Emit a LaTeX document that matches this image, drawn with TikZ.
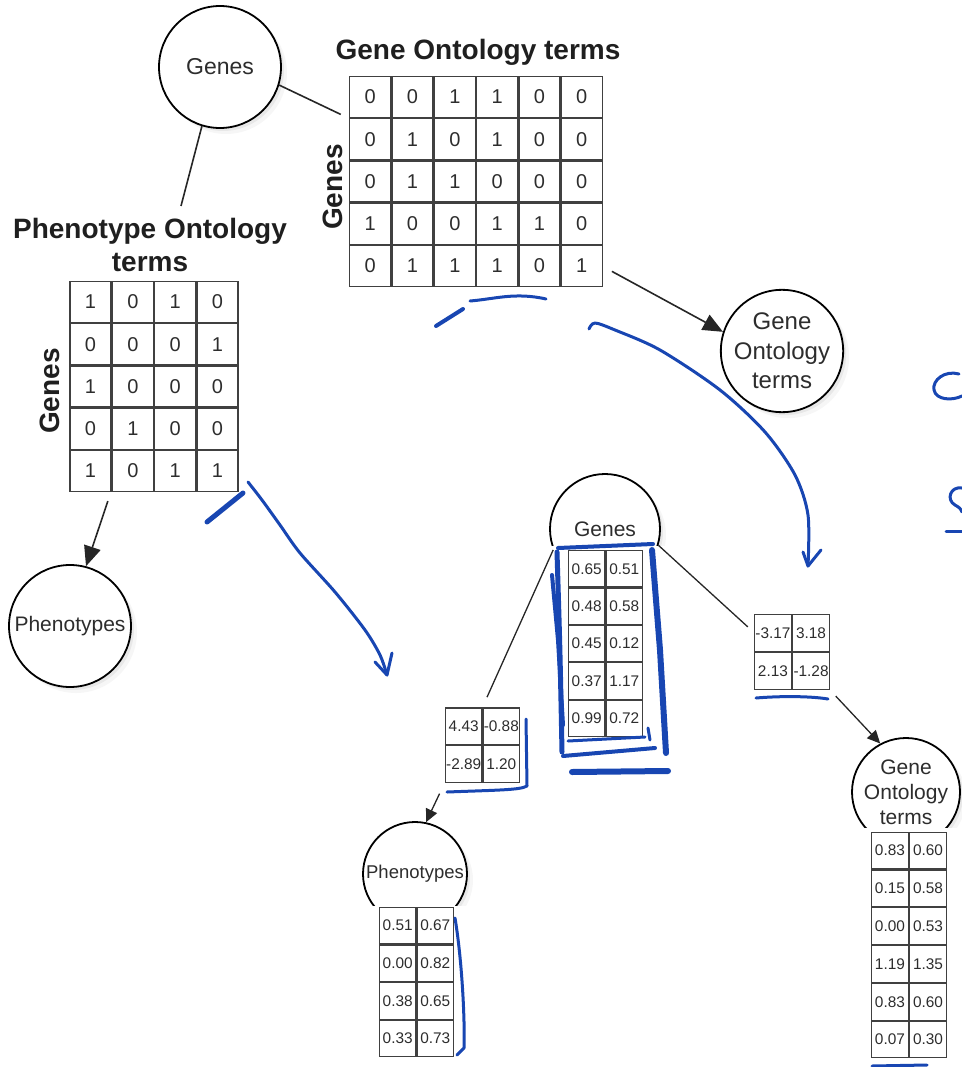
\documentclass[tikz,border=0pt]{standalone}
\usepackage{fontspec}
\setmainfont{Liberation Sans}
\usepackage{tikz}
\usetikzlibrary{matrix,shadows,arrows.meta,positioning}
\definecolor{inkblue}{RGB}{24,70,178}
\definecolor{txt}{RGB}{45,45,45}
\newcommand{\mFont}[2]{\fontsize{#1}{#2}\selectfont}
\newcommand{\mCover}[2]{\fill[white] #1 rectangle #2;}
\tikzset{
  entity/.style={circle, draw, line width=1.8pt, fill=white, text=txt, align=center, inner sep=0pt,
    drop shadow={shadow xshift=6pt, shadow yshift=-6pt, opacity=0.07},
    drop shadow={shadow xshift=3pt, shadow yshift=-3pt, opacity=0.12}},
  bincell/.style={draw=black!75, line width=1.3pt, minimum size=41pt, inner sep=0pt, outer sep=0pt,
    text=txt, font=\mFont{20}{24}},
  numcell/.style={draw=black!75, line width=1.1pt, minimum width=36.5pt, minimum height=36.5pt,
    inner sep=0pt, outer sep=0pt, text=txt, font=\mFont{15.4}{18}},
  grid/.style={matrix of nodes, column sep=0pt, row sep=0pt, inner sep=0pt},
  heading/.style={font=\bfseries\mFont{28}{33}, text=black!88, align=center, inner sep=0pt},
  link/.style={line width=1.6pt, black!85},
  arr/.style={link, -{Triangle[length=20pt,width=17pt]}},
  smallarr/.style={link, line width=1.3pt, -{Triangle[length=13pt,width=12pt]}},
  pen/.style={draw=inkblue, line width=3.5pt, line cap=round, line join=round},
}
\begin{document}
\begin{tikzpicture}[x=1pt,y=-1pt]
    \useasboundingbox (0,0) rectangle (961,1067);
    % input matrices
    \node[entity, minimum size=122pt, font=\mFont{23}{28}] (genesT) at (220,67) {Genes};
    \node[heading, anchor=base] (goTitle) at (478,60) {Gene Ontology terms};
    \node[heading, rotate=90] (goRowLbl) at (333,187) {Genes};
    \matrix (goM) [grid, nodes=bincell] at (476,181.5) {
      0 & 0 & 1 & 1 & 0 & 0 \\
      0 & 1 & 0 & 1 & 0 & 0 \\
      0 & 1 & 1 & 0 & 0 & 0 \\
      1 & 0 & 0 & 1 & 1 & 0 \\
      0 & 1 & 1 & 1 & 0 & 1 \\
    };
    \node[heading, anchor=north] (phTitle) at (150,218) {Phenotype Ontology\\terms};
    \node[heading, rotate=90] (phRowLbl) at (50,391) {Genes};
    \matrix (phM) [grid, nodes=bincell] at (154,386.5) {
      1 & 0 & 1 & 0 \\
      0 & 0 & 0 & 1 \\
      1 & 0 & 0 & 0 \\
      0 & 1 & 0 & 0 \\
      1 & 0 & 1 & 1 \\
    };
    \node[entity, minimum size=122pt, font=\mFont{24}{29.5}] (goC) at (782,351) {Gene\\Ontology\\terms};
    \node[entity, minimum size=122pt, font=\mFont{21}{25}] (phC) at (70,626) {Phenotypes};
    \coordinate (phLink) at (181,206);
    \draw[link, shorten >=10pt] (genesT.-17) -- (goM-2-1.north west);
    \draw[link] (genesT.-107) -- (phLink);
    \draw[arr, shorten <=11pt] (goM-5-6.east) -- (goC.162);
    \draw[arr, shorten <=10pt] (phM-5-1.south east) -- (phC.75);
    % factor matrices
    \node[entity, minimum size=110pt, font=\mFont{21}{25}] (genesM) at (605,529) {Genes};
    \node[entity, minimum size=104pt, font=\mFont{18.5}{22}] (phB) at (415,874) {Phenotypes};
    \node[entity, minimum size=108pt, font=\mFont{21}{25}] (goB) at (906,792) {Gene\\Ontology\\terms};
    \mCover{(550,546)}{(668,742)}
    \mCover{(360,906)}{(476,1062)}
    \mCover{(849,828)}{(961,1062)}
    \matrix (genesMM) [grid, nodes={numcell, minimum height=36.3pt}] at (605.5,643.5) {
      0.65 & 0.51 \\
      0.48 & 0.58 \\
      0.45 & 0.12 \\
      0.37 & 1.17 \\
      0.99 & 0.72 \\
    };
    \matrix (lsM) [grid, nodes=numcell] at (482.5,745) {
      4.43 & -0.88 \\
      -2.89 & 1.20 \\
    };
    \matrix (rsM) [grid, nodes={numcell, minimum size=37pt}] at (792,652) {
      -3.17 & 3.18 \\
      2.13 & -1.28 \\
    };
    \matrix (phBM) [grid, nodes=numcell] at (416.5,982) {
      0.51 & 0.67 \\
      0.00 & 0.82 \\
      0.38 & 0.65 \\
      0.33 & 0.73 \\
    };
    \matrix (goBM) [grid, nodes={numcell, minimum width=37pt, minimum height=36.7pt}] at (909,945) {
      0.83 & 0.60 \\
      0.15 & 0.58 \\
      0.00 & 0.53 \\
      1.19 & 1.35 \\
      0.83 & 0.60 \\
      0.07 & 0.30 \\
    };
    \draw[link, line width=1.3pt, shorten >=11pt] (genesM.-158) -- (lsM.north);
    \draw[link, line width=1.3pt, shorten >=9pt] (genesM.-17) -- (rsM-1-1.west);
    \draw[smallarr, shorten <=12pt] (lsM.south west) -- (phB.78);
    \draw[smallarr, shorten <=8pt] (rsM.south east) -- (goB.118);
    % pen marks
    \draw[pen, line width=4pt] (436,326) -- (463,309);
    \draw[pen, line width=3pt] (470,301) .. controls (495,299) and (515,292) .. (546,299);
    \draw[pen, line width=3pt] plot[smooth] coordinates {(589,329) (595,323) (615,330) (660,350) (720,390)
      (765,432) (795,475) (808,515) (808,566)};
    \draw[pen, line width=3pt] (803,552) -- (808,566) -- (821,550);
    \draw[pen, line width=5pt] (207,522) -- (243,493);
    \draw[pen, line width=3pt] plot[smooth] coordinates {(248,482) (262,500) (280,525) (300,553) (335,592)
      (365,630) (380,655) (387,675)};
    \draw[pen, line width=3pt] (375,662) -- (387,675) -- (392,653);
    \draw[pen, line width=4pt] (558,548) -- (653,544);
    \draw[pen, line width=5pt] (557,552) .. controls (560,650) .. (562,752);
    \draw[pen, line width=4pt] (552,575) -- (558,640) -- (563,725);
    \draw[pen, line width=6pt] (652,550) -- (660,650) -- (666,753);
    \draw[pen, line width=3pt] (568,741) -- (645,737);
    \draw[pen, line width=4pt] (563,756) -- (655,748);
    \draw[pen, line width=6pt] (572,772) -- (668,771);
    \draw[pen, line width=3pt] (648,728) -- (650,740);
    \draw[pen, line width=3pt] (447,792) .. controls (500,790) and (520,790) .. (527,786) -- (526,719);
    \draw[pen, line width=3pt] (756,698) .. controls (780,696) and (810,696) .. (828,699);
    \draw[pen, line width=3pt] (455,918) .. controls (462,960) and (465,1020) .. (464,1048) -- (457,1055);
    \draw[pen, line width=3pt] (872,1066) -- (927,1065);
    \draw[pen, line width=3pt] (959,374) .. controls (945,370) and (932,380) .. (934,390)
      .. controls (936,400) and (952,401) .. (962,396);
    \draw[pen, line width=3pt] (962,488) .. controls (950,486) and (946,500) .. (955,505)
      .. controls (960,508) .. (962,512);
    \draw[pen, line width=3pt] (946,531) -- (962,531);
\end{tikzpicture}
\end{document}
